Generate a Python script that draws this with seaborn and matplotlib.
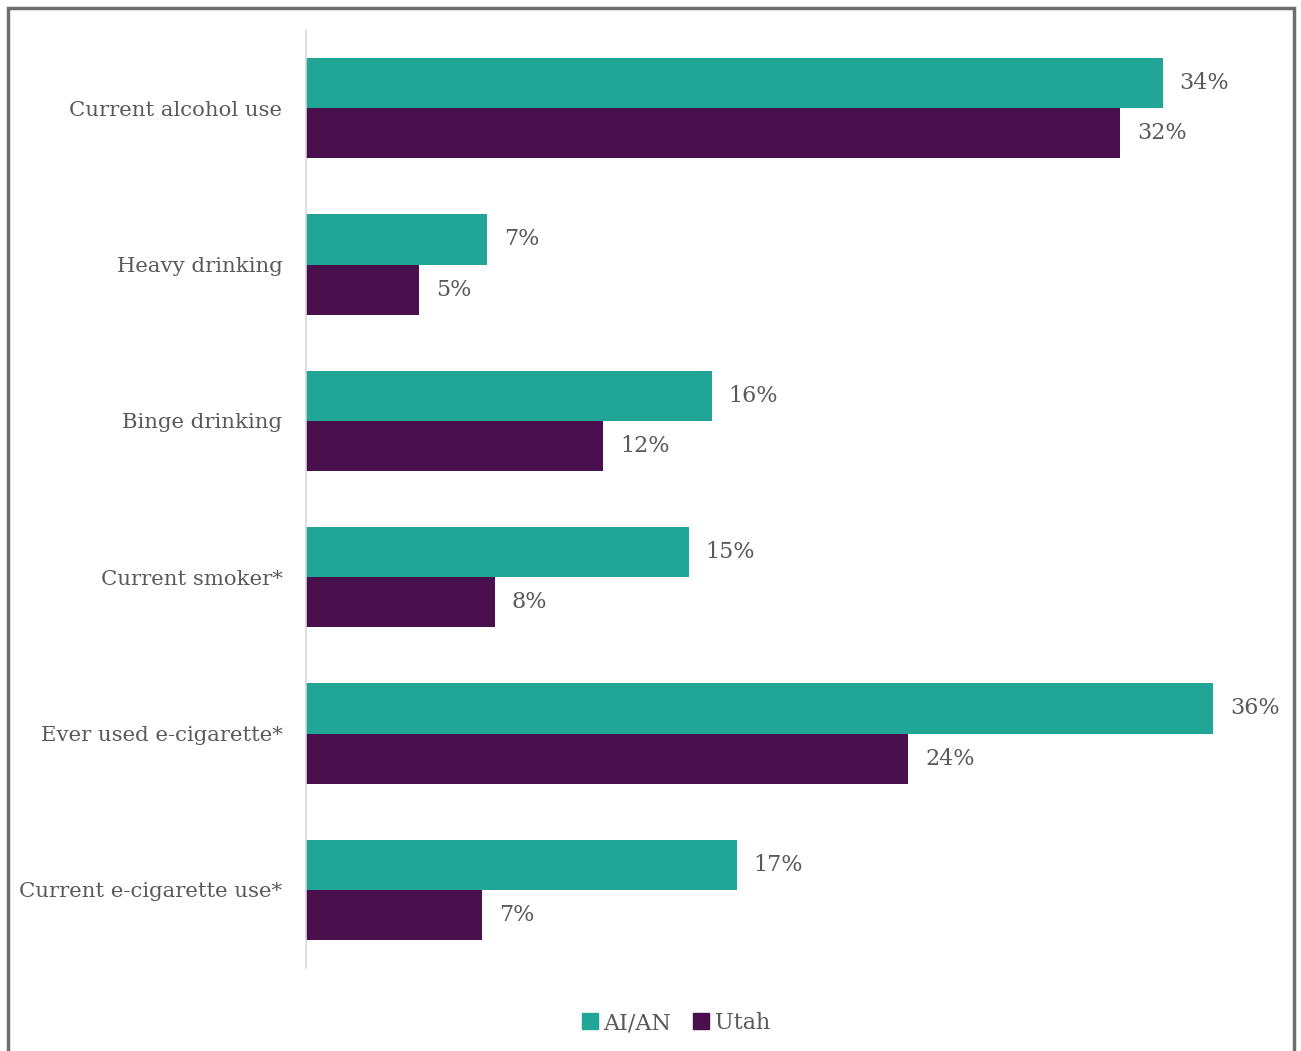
"""Substance use among AI/AN students vs. Utah overall: grouped horizontal bars."""

import matplotlib.pyplot as plt
import pandas as pd
import seaborn as sns
from matplotlib.patches import Rectangle

CATEGORIES = [
    "Current alcohol use",
    "Heavy drinking",
    "Binge drinking",
    "Current smoker*",
    "Ever used e-cigarette*",
    "Current e-cigarette use*",
]
GROUPS = ["AI/AN", "Utah"]
AIAN_PCT = [34.0, 7.2, 16.1, 15.2, 36.0, 17.1]
UTAH_PCT = [32.3, 4.5, 11.8, 7.5, 23.9, 7.0]
LABELS_AIAN = ["34%", "7%", "16%", "15%", "36%", "17%"]
LABELS_UTAH = ["32%", "5%", "12%", "8%", "24%", "7%"]

TEAL = "#21a596"
PURPLE = "#4a0f4d"
TEXT = "#595959"


def build_frame() -> pd.DataFrame:
    rows = []
    for cat, a, u in zip(CATEGORIES, AIAN_PCT, UTAH_PCT):
        rows.append({"category": cat, "group": GROUPS[0], "pct": a})
        rows.append({"category": cat, "group": GROUPS[1], "pct": u})
    return pd.DataFrame(rows)


def main() -> None:
    sns.set_theme(style="white")
    plt.rcParams["font.family"] = ["DejaVu Serif"]

    data = build_frame()
    fig = plt.figure(figsize=(13.01, 10.51), dpi=100)
    ax = fig.add_axes([306 / 1301, 1 - 968 / 1051, 983 / 1301, 938 / 1051])

    sns.barplot(
        data=data,
        y="category",
        x="pct",
        hue="group",
        order=CATEGORIES,
        hue_order=GROUPS,
        palette=[TEAL, PURPLE],
        width=0.64,
        orient="h",
        saturation=1,
        linewidth=0,
        legend=False,
        ax=ax,
    )

    for container, labels in zip(ax.containers, [LABELS_AIAN, LABELS_UTAH]):
        ax.bar_label(container, labels=labels, padding=12, fontsize=16, color=TEXT)

    ax.set_xlim(0, 39)
    ax.set_ylim(5.5, -0.5)
    ax.set_xlabel("")
    ax.set_ylabel("")
    ax.set_xticks([])
    ax.tick_params(axis="y", length=0, pad=17, labelsize=15.3, labelcolor=TEXT)
    for side in ["top", "right", "bottom"]:
        ax.spines[side].set_visible(False)
    ax.spines["left"].set_color("#d9d9d9")
    ax.spines["left"].set_linewidth(1.2)

    handles = [Rectangle((0, 0), 1, 1, color=c) for c in (TEAL, PURPLE)]
    fig.legend(
        handles,
        GROUPS,
        loc="center",
        bbox_to_anchor=(676 / 1301, 1 - 1023 / 1051),
        ncol=2,
        frameon=False,
        fontsize=16,
        labelcolor=TEXT,
        handlelength=0.7,
        handleheight=0.7,
        handletextpad=0.25,
        columnspacing=1.0,
    )

    fig.patches.append(
        Rectangle(
            (8 / 1301, -0.01),
            1286 / 1301,
            1 - 8 / 1051 + 0.01,
            transform=fig.transFigure,
            fill=False,
            edgecolor="#6e6e6e",
            linewidth=2.5,
        )
    )

    fig.savefig("out.png", dpi=100)
    plt.close(fig)


if __name__ == "__main__":
    main()
